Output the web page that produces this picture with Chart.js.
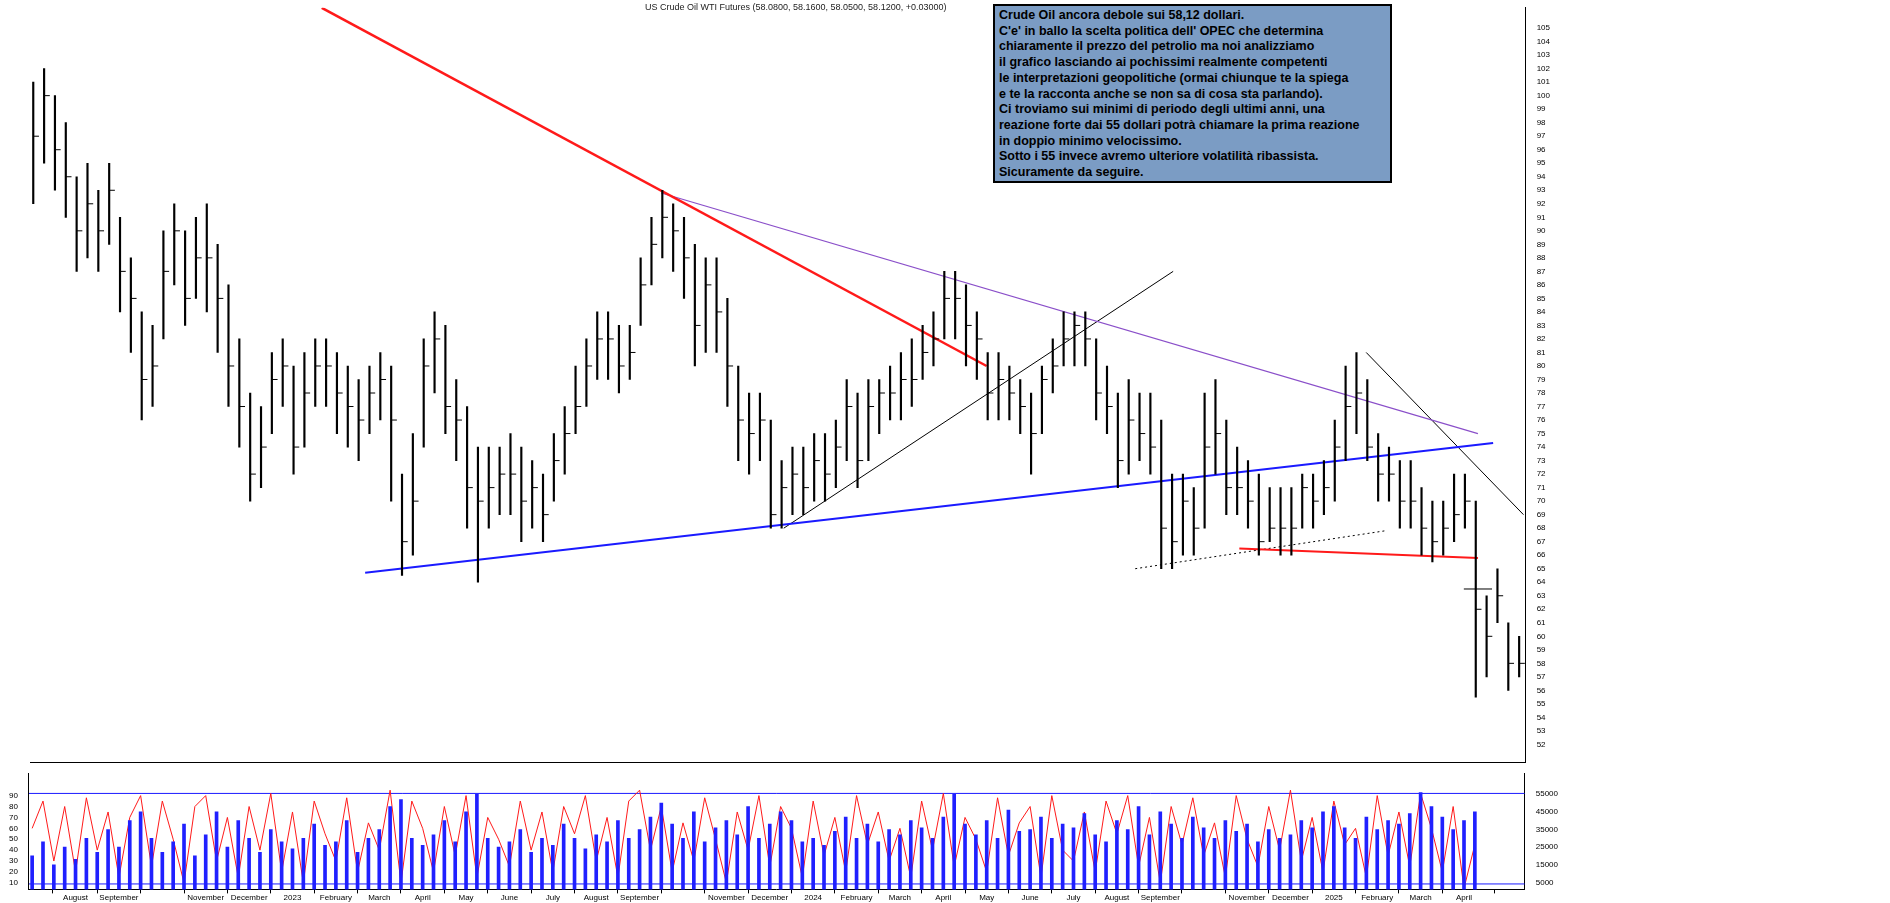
<!DOCTYPE html>
<html><head><meta charset="utf-8">
<script src="https://cdn.jsdelivr.net/npm/chart.js@4"></script>
<style>
body{margin:0;background:#fff;width:1890px;height:903px;overflow:hidden;font-family:"Liberation Sans",Arial,sans-serif}
#top{position:absolute;left:0;top:0;width:1575px;height:770px}
#bot{position:absolute;left:0;top:766px;width:1575px;height:137px}
#title{position:absolute;left:645px;top:2px;font-size:9px;color:#222}
#note{position:absolute;left:993px;top:4px;width:387px;height:171px;background:#7b9cc4;border:2px solid #000;font:bold 12.5px "Liberation Sans",Arial,sans-serif;line-height:15.7px;padding:2px 4px;color:#000}
</style></head><body>
<div id="top"><canvas id="c1"></canvas></div>
<div id="bot"><canvas id="c2"></canvas></div>
<div id="title">US Crude Oil WTI Futures (58.0800, 58.1600, 58.0500, 58.1200, +0.03000)</div>
<div id="note">Crude Oil ancora debole sui 58,12 dollari.<br>C'e' in ballo la scelta politica dell' OPEC che determina<br>chiaramente il prezzo del petrolio ma noi analizziamo<br>il grafico lasciando ai pochissimi realmente competenti<br>le interpretazioni geopolitiche (ormai chiunque te la spiega<br>e te la racconta anche se non sa di cosa sta parlando).<br>Ci troviamo sui minimi di periodo degli ultimi anni, una<br>reazione forte dai 55 dollari potrà chiamare la prima reazione<br>in doppio minimo velocissimo.<br>Sotto i 55 invece avremo ulteriore volatilità ribassista.<br>Sicuramente da seguire.</div>
<script>
// weekly values, Jul 2022 - May 2025
const months = ['July','August','September','','November','December','2023','February','March','April','May','June','July','August','September','','November','December','2024','February','March','April','May','June','July','August','September','','November','December','2025','February','March','April','May'];
const closes = [97,100,96,94, 90,92,90,93, 87,85,79,80, 87,90,85,88, 88,85,80,77, 72,74,79,80, 74,78,80,80, 78,77,76,78, 79,76,67,70, 80,82,77,76, 71,70,71,72, 72,70,71,69, 73,75,77,80, 82,82,80,81, 86,89,91,90, 88,83,86,84, 80,76,75,76, 69,71,72,71, 73,72,74,77, 73,77,78,78, 79,79,81,82, 85,85,83,82, 78,79,78,77, 75,79,80,82, 83,82,78,77, 73,76,75,74, 68,67,70,68, 74,75,71,71, 70,67,68,68, 68,71,70,71, 74,77,78,74, 72,72,70,70, 68,67,68,69, 70,62,60,63, 58,58];
const highs = [101,102,100,98, 94,95,93,95, 91,88,84,83, 90,92,90,91, 92,89,86,82, 78,77,81,82, 80,81,82,82, 81,80,79,80, 81,80,72,75, 82,84,83,79, 77,74,74,74, 75,74,73,72, 75,77,80,82, 84,84,83,83, 88,91,93,92, 91,89,88,88, 85,80,78,78, 76,73,74,74, 75,75,76,79, 78,79,79,80, 81,82,83,84, 87,87,86,84, 81,81,80,79, 78,80,82,84, 84,84,82,80, 78,79,78,78, 76,72,72,71, 78,79,76,74, 73,72,71,71, 71,72,72,73, 76,80,81,79, 75,74,73,73, 71,70,70,72, 72,70,63,65, 61,60];
const lows = [92,95,93,91, 87,88,87,89, 84,81,76,77, 82,86,83,85, 84,81,77,74, 70,71,75,77, 72,74,77,77, 75,74,73,75, 76,70,64.5,66, 74,78,75,73, 68,64,68,69, 69,67,68,67, 70,72,75,77, 79,79,78,79, 83,86,88,87, 85,80,81,81, 77,73,72,73, 68,68,69,69, 70,70,71,73, 71,73,75,76, 76,77,79,80, 82,82,80,79, 76,76,76,75, 72,75,78,80, 80,80,76,75, 71,72,73,72, 65,65,66,66, 68,72,69,69, 68,66,67,66, 66,68,68,69, 70,73,75,73, 70,70,68,68, 66,65.5,66,67, 68,55.5,57,61, 56,57];
const volume = [20,28,15,25, 18,30,22,35, 25,40,45,30, 22,28,38,20, 32,45,25,40, 30,22,35,28, 24,30,38,26, 28,40,22,30, 35,48,52,30, 26,32,40,28, 45,55,30,25, 28,35,22,30, 26,38,30,24, 32,28,40,30, 35,42,50,38, 30,45,28,36, 40,32,48,30, 38,45,40,28, 30,26,34,42, 30,38,28,35, 32,40,36,30, 42,55,38,32, 40,30,46,34, 35,42,30,38, 36,44,32,28, 40,35,48,32, 45,38,30,42, 36,30,40,34, 38,28,35,30, 32,40,36,45, 48,36,30,42, 35,40,38,44, 56,48,42,35, 40,45];
const oscillator = [60,85,30,80, 20,88,40,75, 15,70,90,25, 85,50,10,80, 90,30,70,15, 80,40,92,20, 75,10,85,55, 30,88,20,65, 40,95,10,85, 60,20,80,35, 90,15,70,50, 25,85,40,75, 20,80,55,90, 30,70,15,85, 95,40,80,20, 65,30,88,50, 10,75,40,90, 25,80,60,15, 85,35,70,20, 90,45,75,30, 60,15,85,40, 92,25,70,50, 20,88,35,65, 80,15,90,40, 30,75,20,85, 55,90,25,70, 10,80,45,88, 35,65,15,90, 50,25,80,40, 95,30,70,20, 85,45,60,15, 90,35,75,25, 92,60,20,80, 5,45];
// trendlines [x0, y0, x1, y1] in week index / price
const redDown = [26.6,106.5,87.9,80];
const purpleLine = [57.9,92.8,133.2,75];
const blueSupport = [30.6,64.7,134.6,74.3];
const blackUp = [69.2,68,105.1,87];
const blackDown = [122.9,81,137.4,69];
const redFlat = [111.2,66.5,133.2,65.8];
const dotted = [101.6,65,124.6,67.8];
const shortFlat = [131.9,63.5,134.5,63.5];

const n = closes.length;
const idx = closes.map((_, i) => i);
const xMin = -0.3, xMax = n - 0.4;

function seg(a, color, width, dash) {
    return { type: 'line', data: [{x: a[0], y: a[1]}, {x: a[2], y: a[3]}], borderColor: color, borderWidth: width, borderDash: dash || [], pointRadius: 0 };
}
const monthTick = v => (v % 4 === 0 && months[v / 4] !== undefined) ? months[v / 4] : '';

new Chart(document.getElementById('c1'), {
    data: {
        datasets: [
            { type: 'bar', data: idx.map(i => ({x: i, y: [lows[i], highs[i]]})), backgroundColor: '#000', barThickness: 1.5, grouped: false },
            { type: 'scatter', data: idx.map(i => ({x: i + 0.25, y: closes[i]})), pointStyle: 'line', pointRadius: 3, borderColor: '#000', borderWidth: 1 },
            seg(redDown, '#ff1a1a', 2.5),
            seg(purpleLine, '#8a4fc9', 1.2),
            seg(blueSupport, '#1a1aff', 2.2),
            seg(blackUp, '#000', 1),
            seg(blackDown, '#000', 1),
            seg(redFlat, '#ff1a1a', 2),
            seg(dotted, '#000', 1, [2, 3]),
            seg(shortFlat, '#000', 1)
        ]
    },
    options: {
        animation: false, maintainAspectRatio: false, responsive: true,
        layout: { padding: { left: 30, right: 22, top: 0, bottom: 0 } },
        plugins: { legend: { display: false }, tooltip: { enabled: false } },
        scales: {
            x: { type: 'linear', offset: false, min: xMin, max: xMax, ticks: { display: false }, grid: { display: false }, border: { color: '#000' } },
            y: { position: 'right', min: 50.7, max: 106.5, ticks: { stepSize: 1, autoSkip: false, color: '#000', font: { size: 8 }, callback: v => (v >= 51 && v <= 106) ? v : '' }, grid: { display: false }, border: { color: '#000' } }
        }
    }
});

new Chart(document.getElementById('c2'), {
    data: {
        datasets: [
            { type: 'bar', data: idx.map(i => ({x: i, y: volume[i]})), yAxisID: 'y2', backgroundColor: '#2020ff', barThickness: 3 },
            { type: 'line', data: idx.map(i => ({x: i, y: oscillator[i]})), yAxisID: 'y', borderColor: '#ff1a1a', borderWidth: 1, pointRadius: 0 },
            { type: 'line', data: [{x: xMin, y: 92}, {x: xMax, y: 92}], yAxisID: 'y', borderColor: '#1a1aff', borderWidth: 1, pointRadius: 0 },
            { type: 'line', data: [{x: xMin, y: 9}, {x: xMax, y: 9}], yAxisID: 'y', borderColor: '#1a1aff', borderWidth: 1, pointRadius: 0 }
        ]
    },
    options: {
        animation: false, maintainAspectRatio: false, responsive: true,
        layout: { padding: { top: 2, left: 6, right: 14 } },
        plugins: { legend: { display: false }, tooltip: { enabled: false } },
        scales: {
            x: { type: 'linear', offset: false, min: xMin, max: xMax, ticks: { stepSize: 4, autoSkip: false, maxRotation: 0, color: '#000', font: { size: 8 }, callback: monthTick, padding: 0 }, grid: { display: true, drawOnChartArea: false, color: '#000', tickLength: 4 }, border: { color: '#000' } },
            y: { position: 'left', min: 4, max: 110, ticks: { stepSize: 10, autoSkip: false, color: '#000', font: { size: 8 }, callback: v => (v >= 10 && v <= 90) ? v : '' }, afterBuildTicks: a => { a.ticks = [10,20,30,40,50,60,70,80,90].map(v => ({value: v})); }, grid: { display: false }, border: { color: '#000' } },
            y2: { position: 'right', min: 1, max: 66.6, afterBuildTicks: a => { a.ticks = [5,10,15,20,25,30,35,40,45,50,55].map(v => ({value: v})); }, ticks: { color: '#000', font: { size: 8 }, callback: v => v * 1000 }, grid: { display: false }, border: { color: '#000' } }
        }
    }
});
</script>
</body></html>
